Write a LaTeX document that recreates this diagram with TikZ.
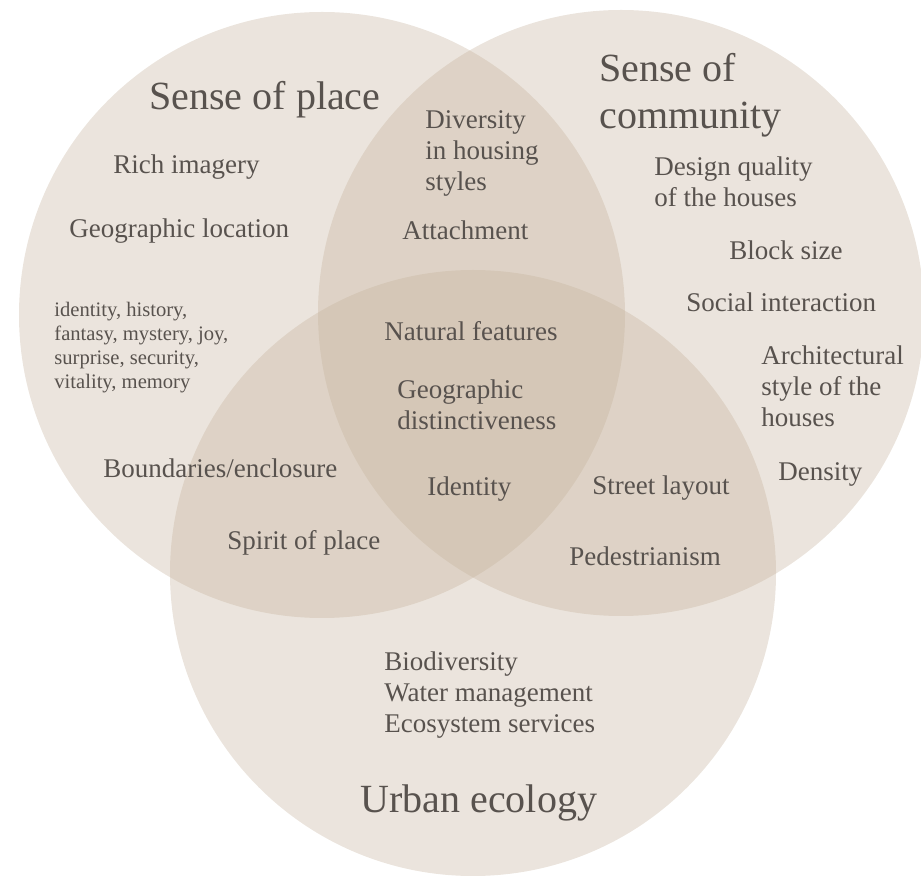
\documentclass[tikz,border=0pt]{standalone}
\usepackage{fontspec}
\setmainfont{Liberation Serif}
\usepackage{tikz}
\usetikzlibrary{positioning}
\definecolor{vennbase}{RGB}{196,176,154}
\definecolor{venntext}{RGB}{88,82,78}
\tikzset{
  item/.style={anchor=west,align=left,inner sep=0,text=venntext,yshift=-1.5pt,
    font=\fontsize{13.5}{15.5}\selectfont},
  smallitem/.style={item,font=\fontsize{10.3}{12}\selectfont},
  heading/.style={item,font=\fontsize{20}{23.5}\selectfont},
  disc/.style={vennbase,opacity=0.34}
}

\begin{document}
\begin{tikzpicture}[x=0.5pt,y=-0.5pt]
                \useasboundingbox (0,0) rectangle (921,876);
                \clip (0,0) rectangle (921,876);
                % the three sets
                \fill[disc] (322,315) circle[radius=303];
                \fill[disc] (621,313) circle[radius=303];
                \fill[disc] (473,573) circle[radius=303];
                % sense of place
                \node[heading] (place) at (149,97) {Sense of place};
                \node[item] (imagery) at (113,164) {Rich imagery};
                \node[item] (location) at (69,228) {Geographic location};
                \node[smallitem] (feelings) at (54,345)
                  {identity, history,\\fantasy, mystery, joy,\\surprise, security,\\vitality, memory};
                \node[item] (bounds) at (103,465) {Boundaries/enclosure};
                % sense of community
                \node[heading] (community) at (599,92) {Sense of\\community};
                \node[item] (quality) at (654,179) {Design quality\\of the houses};
                \node[item] (block) at (729,247) {Block size};
                \node[item] (social) at (686,299) {Social interaction};
                \node[item] (style) at (761,383) {Architectural\\style of the\\houses};
                \node[item] (density) at (778,471) {Density};
                % place and community
                \node[item] (diversity) at (425,150) {Diversity\\in housing\\styles};
                \node[item] (attach) at (402,227) {Attachment};
                % all three
                \node[item] (natural) at (384,328) {Natural features};
                \node[item] (distinct) at (397,402) {Geographic\\distinctiveness};
                \node[item] (identity) at (427,486) {Identity};
                % pairs with urban ecology
                \node[item] (spirit) at (227,540) {Spirit of place};
                \node[item] (street) at (592,485) {Street layout};
                \node[item] (walk) at (569,553) {Pedestrianism};
                % urban ecology
                \node[item] (eco) at (384,692) {Biodiversity\\Water management\\Ecosystem services};
                \node[heading] (urban) at (360,800) {Urban ecology};
              \end{tikzpicture}
\end{document}
